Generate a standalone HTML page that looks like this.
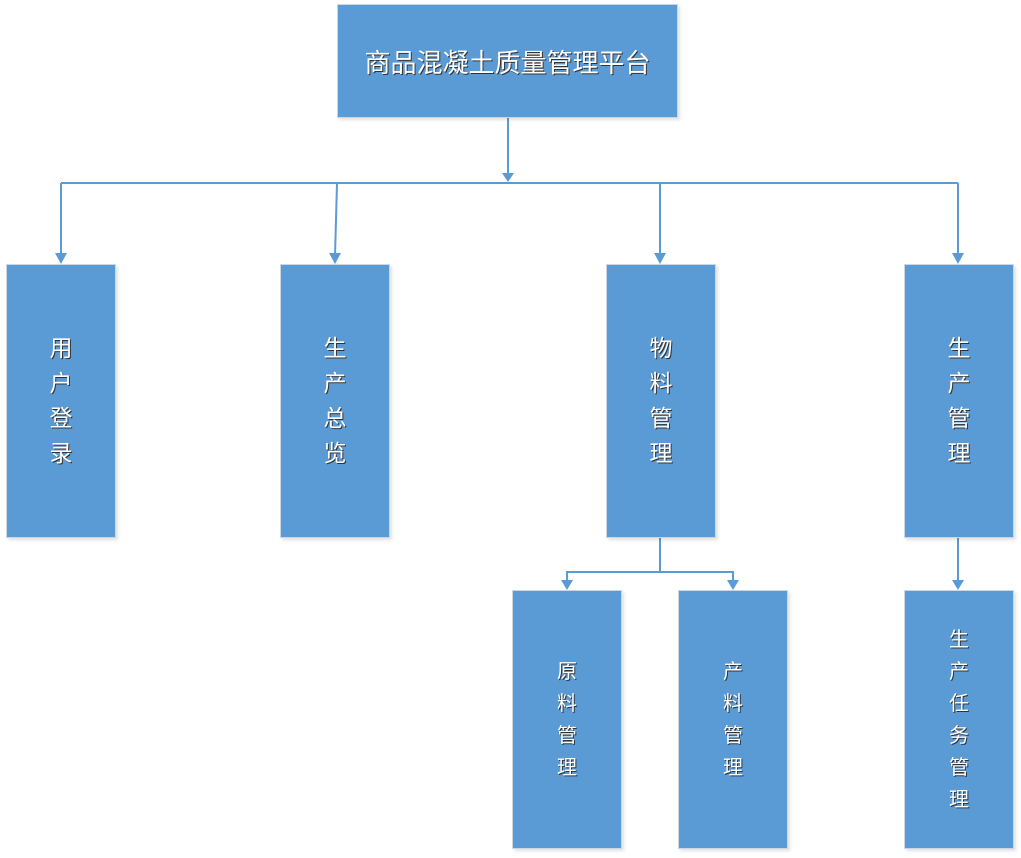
<!DOCTYPE html>
<html><head><meta charset="utf-8"><style>
body{margin:0;width:1021px;height:858px;background:#fff;position:relative;overflow:hidden;font-family:"Liberation Sans","Noto Sans CJK SC",sans-serif}
.b{position:absolute;background:#5b9bd5;border:1px solid #c9d7e6;box-sizing:border-box;color:#fff;display:flex;align-items:center;justify-content:center;text-align:center;text-shadow:1px 1px 0 #333;box-shadow:2px 2px 3px rgba(0,0,0,.12)}
.v{font-size:23px;line-height:35px;width:30px}
.s{font-size:20px;line-height:32px;width:24px}
svg{position:absolute;left:0;top:0}
</style></head><body>
<svg width="1021" height="858">
<g stroke="#5b9bd5" stroke-width="2" fill="none">
<path d="M508 117V176"/>
<path d="M61 183H958"/>
<path d="M61 183V256"/><path d="M337 183L335 256"/><path d="M660 183V256"/><path d="M958 183V256"/>
<path d="M660 537V572H567V583"/><path d="M660 572H733V583"/>
<path d="M958 537V583"/>
</g>
<g fill="#5b9bd5">
<path d="M502 173L514 173L508 182Z"/>
<path d="M55 253L67 253L61 264Z"/><path d="M329 253L341 253L335 264Z"/><path d="M654 253L666 253L660 264Z"/><path d="M952 253L964 253L958 264Z"/>
<path d="M561 580L573 580L567 590Z"/><path d="M727 580L739 580L733 590Z"/><path d="M952 580L964 580L958 590Z"/>
</g>
</svg>
<div class="b" style="left:337px;top:4px;width:341px;height:114px;font-size:26px">商品混凝土质量管理平台</div>
<div class="b" style="left:6px;top:264px;width:110px;height:274px"><div class="v">用户登录</div></div>
<div class="b" style="left:280px;top:264px;width:110px;height:274px"><div class="v">生产总览</div></div>
<div class="b" style="left:606px;top:264px;width:110px;height:274px"><div class="v">物料管理</div></div>
<div class="b" style="left:904px;top:264px;width:110px;height:274px"><div class="v">生产管理</div></div>
<div class="b" style="left:512px;top:590px;width:110px;height:259px"><div class="s">原料管理</div></div>
<div class="b" style="left:678px;top:590px;width:110px;height:259px"><div class="s">产料管理</div></div>
<div class="b" style="left:904px;top:590px;width:110px;height:259px"><div class="s">生产任务管理</div></div>
</body></html>
